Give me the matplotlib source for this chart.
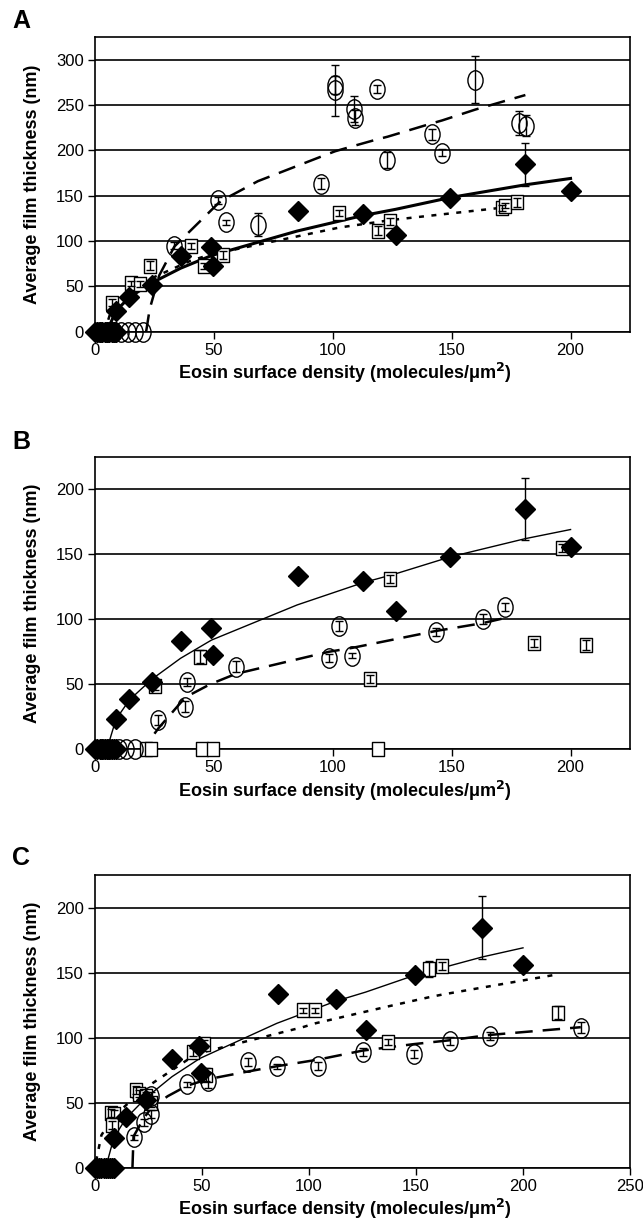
import numpy as np
import matplotlib
matplotlib.use('Agg')
import matplotlib.pyplot as plt
from matplotlib.path import Path

plt.rcParams['font.family'] = ['Liberation Sans', 'DejaVu Sans']

# ---- datos compartidos (rombos, mismos en A, B y C) ----
rombo_x = [0, 1, 2, 3, 4, 5, 6, 7, 8, 9,
           8.8, 14.5, 24, 36, 48.6, 49.6, 85.3, 112.5, 126.5, 149.5, 181, 200]
rombo_y = [0, 0, 0, 0, 0, 0, 0, 0, 0, 0,
           23, 38.6, 51.8, 83.5, 93.5, 72.6, 133.3, 129.6, 106.2, 147.8, 184.6, 155.7]
rombo_err = [0] * 10 + [2, 2, 2, 2, 2, 3, 2, 3, 2, 2, 24, 2]
ajuste_rombo_x = [5, 8.8, 14.5, 24, 36, 49, 85, 112.5, 126.5, 149.5, 181, 200]
ajuste_rombo_y = [0, 23, 38, 54, 70, 84, 111, 128, 135, 148, 162, 169]

# ---- panel A ----
a_circ_x = [2, 5, 8, 11, 14, 17, 20,
            33.4, 51.9, 55.2, 68.5, 95.1, 101, 101, 109, 109.4, 118.5, 123,
            141.8, 146, 160, 178.2, 181.2]
a_circ_y = [0, 0, 0, 0, 0, 0, 0,
            94.7, 144.8, 120.5, 118, 163, 272, 266, 245.5, 236, 267.6, 189.5,
            217.5, 197.6, 278, 230, 227.4]
a_circ_err = [0] * 7 + [4, 4, 3, 13, 6, 10, 28, 14, 8, 4, 9,
                        6, 4, 26, 13, 12]
a_cuad_x = [2, 4, 6, 7, 15.3, 18.8, 23.2, 40.2, 45.8, 53.7, 102.8, 119, 124.2,
            171.3, 172.5, 177.4]
a_cuad_y = [0, 0, 0, 32, 53.4, 52.7, 72.6, 94.7, 72.6, 84.7, 130.8, 111.6, 121.6,
            136.3, 138.9, 142.6]
a_cuad_err = [0, 0, 0, 4, 3, 3, 5, 3, 3, 4, 3, 5, 4, 3, 3, 5]
a_ajuste_circ_x = [21.5, 23, 27, 33.4, 52, 55, 68.5, 95, 101, 109, 118.5, 123,
                   142, 146, 160, 181]
a_ajuste_circ_y = [0, 25, 62, 94, 142, 147, 166, 193, 199, 205, 212, 215,
                   230, 233, 245, 261]
a_ajuste_cuad_x = [4, 7, 15.3, 23, 40, 46, 54, 103, 119, 124, 172, 177]
a_ajuste_cuad_y = [0, 25, 45, 58, 78, 83, 88, 115, 121, 123, 137, 139]

# ---- panel B ----
b_circ_x = [3, 6, 10, 13, 17,
            26.6, 38, 38.5, 59.2, 98.4, 102.8, 108.2, 143.4, 163, 172.5]
b_circ_y = [0, 0, 0, 0, 0,
            22.6, 32.8, 52, 63.6, 70.5, 95, 72, 90, 100, 109.2]
b_circ_err = [0] * 5 + [4, 4, 3, 4, 3, 4, 2, 3, 4, 3]
b_cuad_x = [21.4, 23.7, 25.3, 44, 45, 49.7, 115.5, 119, 124.2, 184.6, 196.5, 206.6]
b_cuad_y = [0, 0, 48.7, 71.3, 0, 0, 53.8, 0, 130.8, 82, 154.6, 80.3]
b_cuad_err = [0, 0, 3, 5, 0, 0, 3, 0, 3, 3, 3, 4]
b_ajuste_circ_x = [25, 26.6, 38, 48.4, 59.2, 98.4, 108.2, 143.4, 163, 172.5]
b_ajuste_circ_y = [12, 16, 40, 50, 58, 75, 78, 91, 97, 101]

# ---- panel C ----
c_circ_x = [18, 22.8, 26.3, 26, 43, 52.7, 71.6, 85, 104, 125, 149.2, 166,
            184.4, 227]
c_circ_y = [23.5, 34.8, 41.2, 55, 64, 67, 81.2, 78, 78, 89, 87.6, 97.4,
            101.3, 107.7]
c_circ_err = [2, 3, 3, 3, 2, 6, 3, 2, 3, 3, 3, 3, 3, 4]
c_cuad_x = [7.3, 8.9, 7.9, 19, 20.5, 24, 26, 46, 50.8, 51.7, 97, 102.9, 137,
            156, 162, 216.2]
c_cuad_y = [42, 41.5, 33, 60, 57, 55, 50, 89.2, 94.8, 71.6, 121, 121, 96.6,
            152.6, 155, 119.2]
c_cuad_err = [3, 3, 3, 3, 3, 3, 3, 3, 3, 5, 2, 2, 2, 6, 3, 5]
c_ajuste_circ_x = [17.5, 18, 22.8, 26.3, 34, 43, 52.7, 71.6, 85, 104, 125, 149,
                   166, 184, 227]
c_ajuste_circ_y = [0, 24, 38, 46, 55, 63, 68, 74, 78, 83, 90, 95, 98, 102, 108]
c_ajuste_cuad_x = [0.5, 3, 8, 19, 26, 46, 51, 97, 103, 137, 156, 162, 214]
c_ajuste_cuad_y = [5, 25, 38, 55, 64, 86, 89, 108, 111, 124, 131, 133, 148]

# marcadores algo estrechos, como en el original
circ = Path.unit_circle()
elipse = Path(circ.vertices * np.array([0.78, 1.0]), circ.codes)
rect = Path([(-0.4, -0.5), (0.4, -0.5), (0.4, 0.5), (-0.4, 0.5), (-0.4, -0.5)],
            [Path.MOVETO, Path.LINETO, Path.LINETO, Path.LINETO, Path.CLOSEPOLY])

fig = plt.figure(figsize=(6.43, 12.3), dpi=100)
W, H = 643.0, 1230.0


def crear_ejes(izq, der, arriba, abajo):
    return fig.add_axes([izq / W, 1 - abajo / H, (der - izq) / W, (abajo - arriba) / H])


def serie(ax, x, y, err, marcador, tam, relleno, z_err=6):
    x, y, err = np.array(x), np.array(y), np.array(err)
    m = err > 0  # solo barras de error donde hay error
    ax.errorbar(x[m], y[m], yerr=err[m], fmt='none', ecolor='black', elinewidth=1,
                capsize=3, capthick=1, zorder=z_err, clip_on=False)
    ax.plot(x, y, linestyle='none', marker=marcador, markersize=tam,
            markerfacecolor=relleno, markeredgecolor='black', markeredgewidth=1,
            zorder=5, clip_on=False)


def formato(ax, xmax, ymax, ystep, xticks, letra, ly):
    ax.set_xlim(0, xmax)
    ax.set_ylim(0, ymax)
    ax.set_xticks(xticks)
    ax.set_yticks(np.arange(0, ymax + 1, ystep))
    ax.yaxis.grid(True, color='black', linewidth=1.2)
    ax.set_axisbelow(True)
    for s in ax.spines.values():
        s.set_linewidth(1.2)
    ax.tick_params(axis='both', direction='out', length=5, width=1, pad=3,
                   labelsize=12)
    ax.set_ylabel('Average film thickness (nm)', fontsize=13, fontweight='bold')
    ax.set_xlabel(r'Eosin surface density (molecules/μm$^\mathbf{2}$)',
                  fontsize=13, fontweight='bold')
    ax.yaxis.set_label_coords(-0.1, 0.5)
    ax.xaxis.set_label_coords(0.467, -0.1)
    fig.text(12 / W, 1 - ly / H, letra, fontsize=18, fontweight='bold',
             va='center', ha='left')


# ---------- A ----------
axA = crear_ejes(95, 630, 37, 331.7)
axA.plot(a_ajuste_circ_x, a_ajuste_circ_y, color='black', lw=1.8, dashes=(7, 4), zorder=3)
axA.plot(a_ajuste_cuad_x, a_ajuste_cuad_y, color='black', lw=1.8, dashes=(2, 3), zorder=3)
axA.plot(ajuste_rombo_x, ajuste_rombo_y, color='black', lw=2.2, zorder=3)
serie(axA, a_cuad_x, a_cuad_y, a_cuad_err, rect, 10, 'white')
serie(axA, a_circ_x, a_circ_y, a_circ_err, elipse, 14, 'none')
serie(axA, rombo_x, rombo_y, rombo_err, 'D', 10, 'black', z_err=4)
formato(axA, 225, 325, 50, [0, 50, 100, 150, 200], 'A', 21)

# ---------- B ----------
axB = crear_ejes(95, 630, 456.7, 749.3)
axB.plot(b_ajuste_circ_x, b_ajuste_circ_y, color='black', lw=1.8, dashes=(7, 4), zorder=3)
axB.plot(ajuste_rombo_x, ajuste_rombo_y, color='black', lw=1.0, zorder=3)
serie(axB, b_cuad_x, b_cuad_y, b_cuad_err, rect, 10, 'white')
serie(axB, b_circ_x, b_circ_y, b_circ_err, elipse, 14, 'none')
serie(axB, rombo_x, rombo_y, rombo_err, 'D', 10, 'black', z_err=4)
formato(axB, 225, 225, 50, [0, 50, 100, 150, 200], 'B', 442)

# ---------- C ----------
axC = crear_ejes(95, 630, 875, 1167.7)
axC.plot(c_ajuste_circ_x, c_ajuste_circ_y, color='black', lw=1.8, dashes=(7, 4), zorder=3)
axC.plot(c_ajuste_cuad_x, c_ajuste_cuad_y, color='black', lw=1.8, dashes=(2, 3), zorder=3)
axC.plot(ajuste_rombo_x, ajuste_rombo_y, color='black', lw=1.0, zorder=3)
serie(axC, c_cuad_x, c_cuad_y, c_cuad_err, rect, 10, 'white')
serie(axC, c_circ_x, c_circ_y, c_circ_err, elipse, 14, 'none')
serie(axC, rombo_x, rombo_y, rombo_err, 'D', 10, 'black', z_err=4)
formato(axC, 250, 225, 50, [0, 50, 100, 150, 200, 250], 'C', 858)

fig.savefig('out.png', dpi=100)
